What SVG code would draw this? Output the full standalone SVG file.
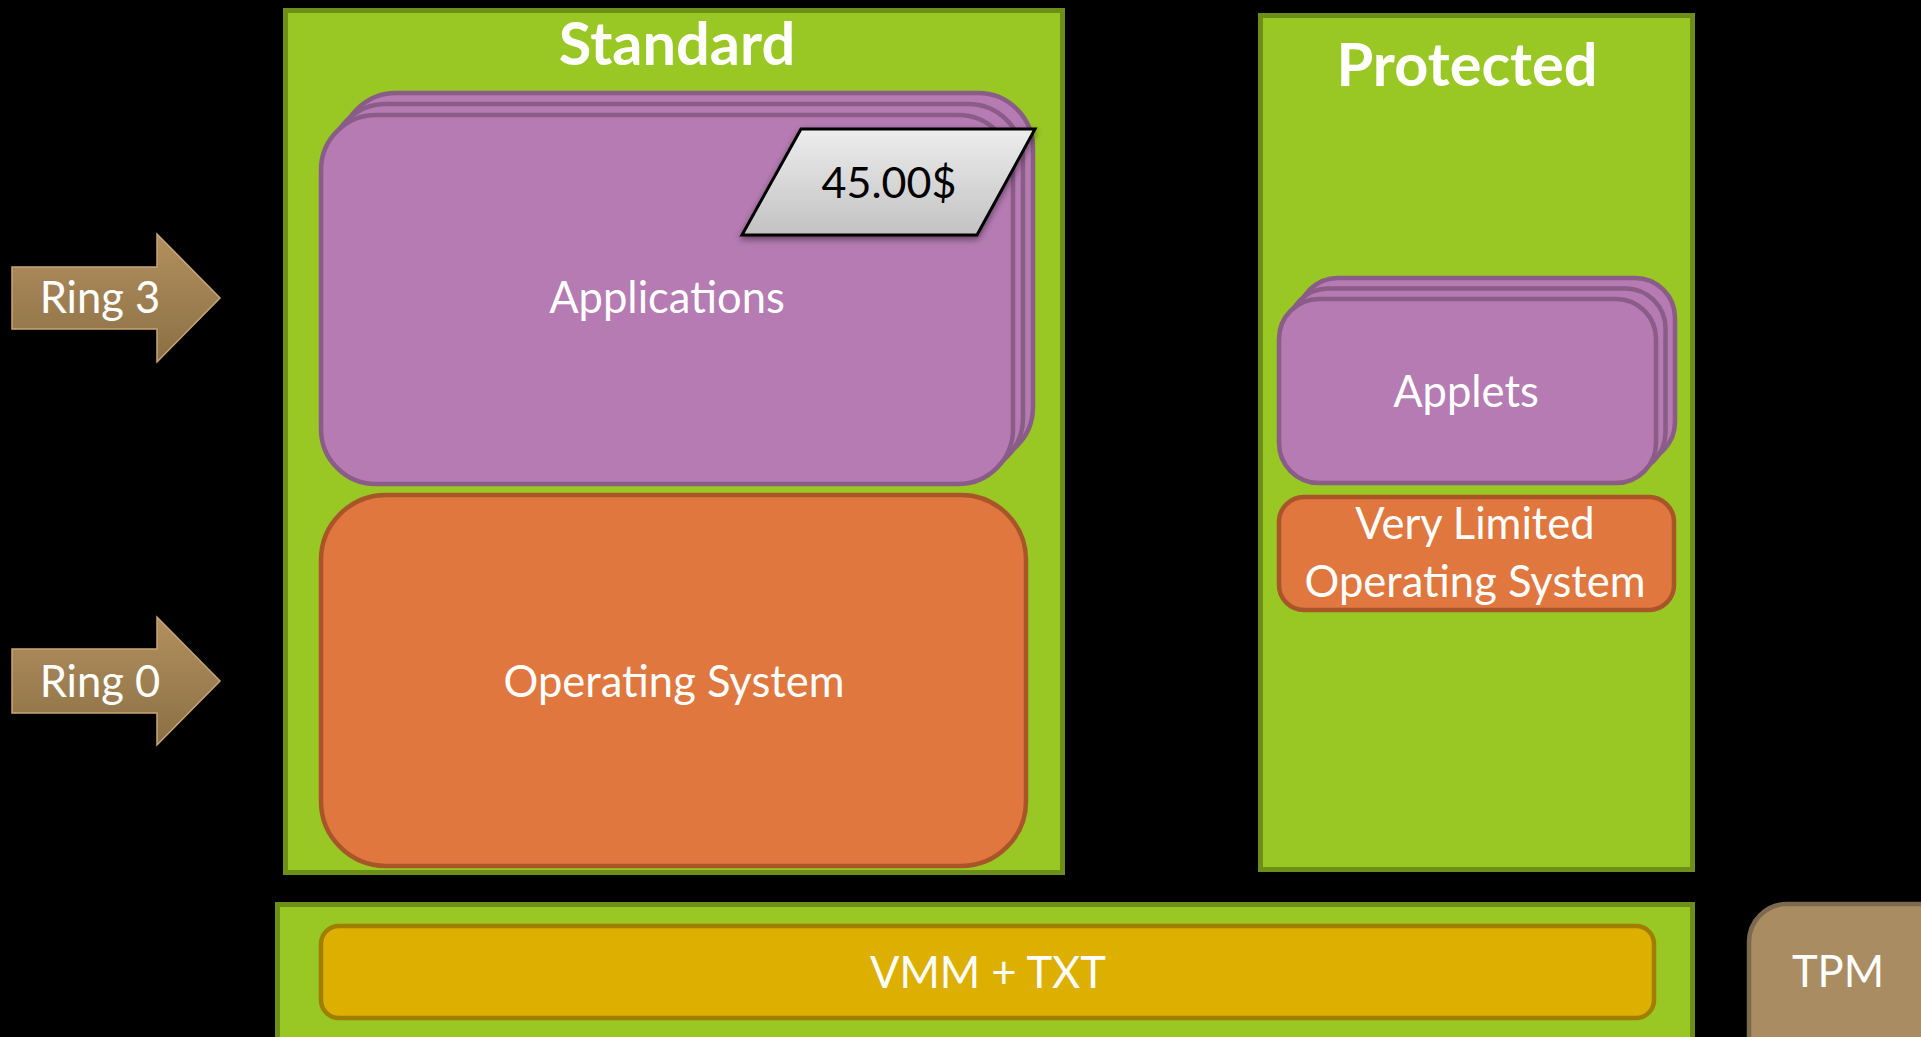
<svg xmlns="http://www.w3.org/2000/svg" width="1921" height="1037" viewBox="0 0 1921 1037">
  <defs>
    <linearGradient id="ringFill" x1="0" y1="0" x2="0" y2="1">
      <stop offset="0" stop-color="#B38F5E"/>
      <stop offset="1" stop-color="#8A7045"/>
    </linearGradient>
    <linearGradient id="tagFill" x1="0" y1="0" x2="0" y2="1">
      <stop offset="0" stop-color="#EDEDED"/>
      <stop offset="1" stop-color="#C2C2C2"/>
    </linearGradient>
    <filter id="tagShadow" x="-10%" y="-10%" width="120%" height="130%">
      <feDropShadow dx="0" dy="3" stdDeviation="3" flood-color="#000" flood-opacity="0.45"/>
    </filter>
  </defs>
  <style>
    .zone { fill: #99C723; stroke: #6C8F19; stroke-width: 5; }
    .card { fill: #B57BB2; stroke: #8A5C88; stroke-width: 4.5; }
    .os { fill: #E0773E; stroke: #A9552A; stroke-width: 4.5; }
    .vmm { fill: #DCAF00; stroke: #A07F00; stroke-width: 4.5; }
    .tpm { fill: #A98C62; stroke: #7C6A4F; stroke-width: 4.5; }
    .ring { fill: url(#ringFill); stroke: #C7A676; stroke-width: 1.5; }
    .tag { fill: url(#tagFill); stroke: #000; stroke-width: 3; stroke-linejoin: miter; }
    .title { font-family: Lato, "Liberation Sans", sans-serif; font-weight: bold; font-size: 59.5px; fill: #FFFFFF; text-anchor: middle; }
    .label { font-family: Lato, "Liberation Sans", sans-serif; font-size: 43.5px; fill: #FFFFFF; text-anchor: middle; }
    .price { font-family: Lato, "Liberation Sans", sans-serif; font-size: 43px; fill: #000000; text-anchor: middle; }
  </style>

  <rect x="0" y="0" width="1921" height="1037" fill="#000000"/>

  <!-- Standard partition -->
  <g id="standard">
    <rect class="zone" x="285.5" y="10.5" width="777" height="862"/>
    <text class="title" x="677" y="65">Standard</text>
  </g>

  <!-- Protected partition -->
  <g id="protected">
    <rect class="zone" x="1260.5" y="15.5" width="432" height="854"/>
    <text class="title" x="1467" y="86">Protected</text>
  </g>

  <!-- Hypervisor layer container -->
  <g id="platform">
    <rect class="zone" x="277.5" y="904.5" width="1415" height="200"/>
  </g>

  <!-- Stack of applications -->
  <g id="applications">
    <rect class="card" x="341" y="93" width="692" height="369" rx="55" ry="55"/>
    <rect class="card" x="331" y="104" width="692" height="369" rx="55" ry="55"/>
    <rect class="card" x="321" y="115" width="692" height="369" rx="55" ry="55"/>
    <text class="label" x="667" y="313">Applications</text>
  </g>

  <!-- Price tag -->
  <g id="price-tag">
    <polygon class="tag" filter="url(#tagShadow)" points="801,129 1035,129 977,235 742,235"/>
    <text class="price" x="889" y="198">45.00$</text>
  </g>

  <!-- Standard operating system -->
  <g id="operating-system">
    <rect class="os" x="321" y="495" width="705" height="371" rx="65" ry="65"/>
    <text class="label" x="674" y="697">Operating System</text>
  </g>

  <!-- Stack of applets -->
  <g id="applets">
    <rect class="card" x="1298" y="278" width="377" height="184" rx="40" ry="40"/>
    <rect class="card" x="1288.5" y="288.5" width="377" height="184" rx="40" ry="40"/>
    <rect class="card" x="1279" y="299" width="377" height="184" rx="40" ry="40"/>
    <text class="label" x="1466" y="407">Applets</text>
  </g>

  <!-- Minimal operating system -->
  <g id="limited-os">
    <rect class="os" x="1279" y="497" width="395" height="113" rx="25" ry="25"/>
    <text class="label" x="1475" y="539">Very Limited</text>
    <text class="label" x="1475" y="597">Operating System</text>
  </g>

  <!-- VMM + TXT -->
  <g id="vmm">
    <rect class="vmm" x="321" y="926" width="1333" height="92" rx="18" ry="18"/>
    <text class="label" x="988" y="988">VMM + TXT</text>
  </g>

  <!-- TPM -->
  <g id="tpm">
    <rect class="tpm" x="1749" y="904" width="250" height="200" rx="38" ry="38"/>
    <text class="label" x="1838" y="987">TPM</text>
  </g>

  <!-- Privilege ring markers -->
  <g id="ring-3">
    <polygon class="ring" points="12,267 157,267 157,234 220,298 157,362 157,329 12,329"/>
    <text class="label" x="100" y="313">Ring 3</text>
  </g>
  <g id="ring-0">
    <polygon class="ring" points="12,649 157,649 157,617 220,681 157,745 157,713 12,713"/>
    <text class="label" x="100" y="697">Ring 0</text>
  </g>
</svg>
